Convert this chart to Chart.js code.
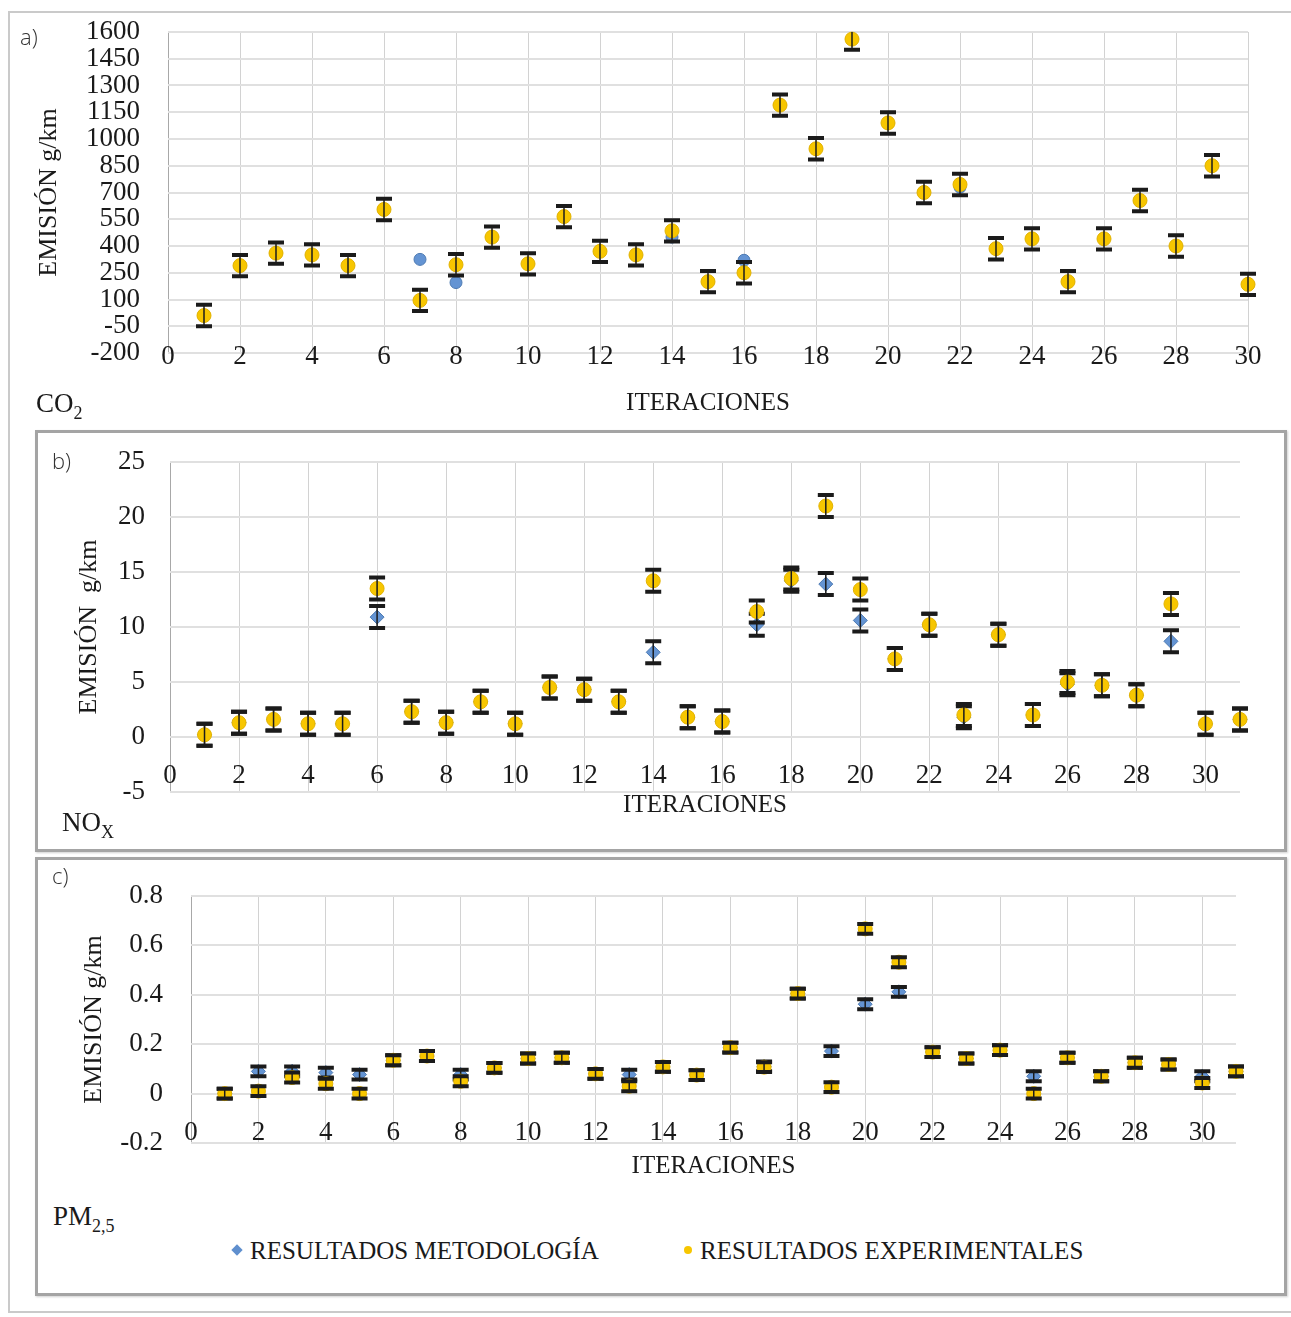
<!DOCTYPE html>
<html lang="es">
<head>
<meta charset="utf-8">
<title>Emisiones CO2, NOx y PM2,5</title>
<script src="https://cdn.jsdelivr.net/npm/chart.js@4.4.1/dist/chart.umd.min.js"></script>
<style>
    body { margin: 0; width: 1291px; height: 1317px; position: relative; overflow: hidden; background: #fff;
           font-family: 'Liberation Serif', serif; color: #1a1a1a; }
    .frame { position: absolute; left: 8px; top: 11px; width: 1300px; height: 1298px; border: 2px solid #cacaca; border-right: none; }
    .box { position: absolute; left: 35px; width: 1246px; border: 3px solid #a4a4a4; box-shadow: 1px 1px 2px #d0d0d0; }
    canvas { position: absolute; }
    .tag { position: absolute; font-family: 'Open Sans', sans-serif; font-weight: 300; font-size: 22px; color: #333; line-height: 1; }
    .gas { position: absolute; font-size: 27px; line-height: 1; }
    .gas sub { font-size: 18px; vertical-align: -7px; }
    .legend-text { position: absolute; font-size: 25px; line-height: 1; top: 1238px; }
    .mk { position: absolute; width: 8px; height: 8px; top: 1246px; }
    .mk.dia { background: #5f8fce; transform: rotate(45deg); }
    .mk.dot { background: #f7c600; border-radius: 50%; }
</style>
</head>
<body>
<div class="frame"></div>
<div class="box" style="top:430px; height:416px;"></div>
<div class="box" style="top:857px; height:433px;"></div>

<canvas id="chart-co2" width="1270" height="420" style="left:10px; top:14px;"></canvas>
<canvas id="chart-nox" width="1240" height="412" style="left:40px; top:435px;"></canvas>
<canvas id="chart-pm" width="1240" height="330" style="left:40px; top:862px;"></canvas>

<div class="tag" style="left:20px; top:25px;">a)</div>
<div class="tag" style="left:52px; top:449px;">b)</div>
<div class="tag" style="left:52px; top:864px;">c)</div>

<div class="gas" style="left:36px; top:390px;">CO<sub>2</sub></div>
<div class="gas" style="left:62px; top:809px;">NO<sub>X</sub></div>
<div class="gas" style="left:53px; top:1203px;">PM<sub>2,5</sub></div>

<span class="mk dia" style="left:233px;"></span>
<div class="legend-text" style="left:250px;">RESULTADOS METODOLOGÍA</div>
<span class="mk dot" style="left:684px;"></span>
<div class="legend-text" style="left:700px;">RESULTADOS EXPERIMENTALES</div>

<script>
// a) CO2
const iterCO2 = [1, 2, 3, 4, 5, 6, 7, 8, 9, 10, 11, 12, 13, 14, 15, 16, 17, 18, 19, 20, 21, 22, 23, 24, 25, 26, 27, 28, 29, 30];
const co2Metodo = [10, 290, 360, 350, 290, 605, 325, 195, 450, 300, 565, 370, 350, 450, 200, 320, 1190, 945, 1560, 1090, 700, 730, 385, 440, 200, 440, 655, 400, 850, 185];
const co2Experimental = [10, 290, 360, 350, 290, 605, 95, 295, 450, 300, 565, 370, 350, 485, 200, 250, 1190, 945, 1560, 1090, 700, 745, 385, 440, 200, 440, 655, 400, 850, 185];
const co2ErrorMetodo = 0;
const co2ErrorExperimental = 60;

// b) NOx
const iterNOx = [1, 2, 3, 4, 5, 6, 7, 8, 9, 10, 11, 12, 13, 14, 15, 16, 17, 18, 19, 20, 21, 22, 23, 24, 25, 26, 27, 28, 29, 30, 31];
const noxMetodo = [0.2, 1.3, 1.6, 1.2, 1.2, 10.9, 2.3, 1.3, 3.2, 1.2, 4.5, 4.3, 3.2, 7.7, 1.8, 1.4, 10.2, 14.2, 13.9, 10.6, 7.1, 10.2, 1.8, 9.3, 2.0, 4.8, 4.7, 3.8, 8.7, 1.2, 1.6];
const noxExperimental = [0.2, 1.3, 1.6, 1.2, 1.2, 13.5, 2.3, 1.3, 3.2, 1.2, 4.5, 4.3, 3.2, 14.2, 1.8, 1.4, 11.4, 14.4, 21.0, 13.4, 7.1, 10.2, 2.0, 9.3, 2.0, 5.0, 4.7, 3.8, 12.1, 1.2, 1.6];
const noxErrorMetodo = 1;
const noxErrorExperimental = 1;

// c) PM2,5
const iterPM = [1, 2, 3, 4, 5, 6, 7, 8, 9, 10, 11, 12, 13, 14, 15, 16, 17, 18, 19, 20, 21, 22, 23, 24, 25, 26, 27, 28, 29, 30, 31];
const pmMetodo = [0.0, 0.09, 0.09, 0.085, 0.077, 0.135, 0.152, 0.077, 0.104, 0.142, 0.145, 0.08, 0.077, 0.108, 0.075, 0.186, 0.11, 0.405, 0.172, 0.362, 0.412, 0.168, 0.142, 0.176, 0.07, 0.145, 0.07, 0.125, 0.118, 0.07, 0.09];
const pmExperimental = [0.0, 0.01, 0.065, 0.04, 0.0, 0.135, 0.152, 0.05, 0.104, 0.142, 0.145, 0.08, 0.03, 0.108, 0.075, 0.186, 0.107, 0.405, 0.026, 0.667, 0.532, 0.168, 0.142, 0.176, 0.0, 0.145, 0.07, 0.125, 0.118, 0.043, 0.09];
const pmErrorMetodo = 0.02;
const pmErrorExperimental = 0.02;

const seriesNames = ['RESULTADOS METODOLOGÍA', 'RESULTADOS EXPERIMENTALES'];

const textColor = '#1a1a1a';
const tickFont = { family: 'Liberation Serif', size: 27 };
const xTitleFont = { family: 'Liberation Serif', size: 25 };
const yTitleFont = { family: 'Liberation Serif', size: 26 };

// error bars drawn over each dataset, from the y scale of the chart
const errorBarPlugin = {
    id: 'errorBars',
    afterDatasetDraw(chart, args) {
        const ds = chart.data.datasets[args.index];
        if (!ds.errorBar) return;
        const yScale = chart.scales.y;
        const area = chart.chartArea;
        const ctx = chart.ctx;
        ctx.save();
        ctx.beginPath();
        ctx.rect(area.left - 20, area.top, area.right - area.left + 40, area.bottom - area.top);
        ctx.clip();
        ctx.strokeStyle = '#1b1b1b';
        args.meta.data.forEach(function(pt, i) {
            const v = ds.data[i].y;
            const top = yScale.getPixelForValue(v + ds.errorBar);
            const bottom = yScale.getPixelForValue(v - ds.errorBar);
            ctx.lineWidth = 1.5;
            ctx.beginPath();
            ctx.moveTo(pt.x, top);
            ctx.lineTo(pt.x, bottom);
            ctx.stroke();
            ctx.lineWidth = 4;
            ctx.beginPath();
            ctx.moveTo(pt.x - 8, top);
            ctx.lineTo(pt.x + 8, top);
            ctx.moveTo(pt.x - 8, bottom);
            ctx.lineTo(pt.x + 8, bottom);
            ctx.stroke();
        });
        ctx.restore();
    }
};

function toPoints(xs, ys) {
    return xs.map(function(x, i) { return { x: x, y: ys[i] }; });
}

function buildPanel(canvasId, p) {
    const canvas = document.getElementById(canvasId)?.getContext('2d');
    if (!canvas) return;
    new Chart(canvas, {
        type: 'scatter',
        data: {
            datasets: [
                {
                    label: seriesNames[0],
                    data: toPoints(p.iter, p.metodo),
                    order: 2,
                    pointStyle: p.blueStyle,
                    pointRadius: p.blueStyle === 'circle' ? 6 : 7,
                    backgroundColor: '#6494d3',
                    borderColor: '#4d7ab2',
                    borderWidth: 1,
                    errorBar: p.errMetodo
                },
                {
                    label: seriesNames[1],
                    data: toPoints(p.iter, p.experimental),
                    order: 1,
                    pointStyle: 'circle',
                    pointRadius: 7,
                    backgroundColor: '#f7c600',
                    borderColor: '#e2b200',
                    borderWidth: 1,
                    errorBar: p.errExperimental
                }
            ]
        },
        options: {
            responsive: false,
            animation: false,
            events: [],
            clip: false,
            layout: { padding: { left: 0, top: p.padTop, right: p.padRight, bottom: 0 } },
            plugins: { legend: { display: false }, tooltip: { enabled: false } },
            scales: {
                x: {
                    type: 'linear',
                    position: 'bottom',
                    min: 0,
                    max: p.xMax,
                    afterFit: function(s) { s.height = p.xHeight; s.paddingLeft = 0; s.paddingRight = 0; },
                    // mirror keeps the labels inside the plot, like the original
                    ticks: { stepSize: 2, includeBounds: false, autoSkip: false, maxRotation: 0, mirror: true,
                             padding: p.xLabelPad, font: tickFont, color: textColor },
                    grid: { drawTicks: false, lineWidth: 1,
                            color: function(c) { return c.tick && c.tick.value === 0 ? '#a8a8a8' : '#d2d2d2'; } },
                    border: { display: false },
                    title: { display: true, text: 'ITERACIONES', font: xTitleFont, color: textColor,
                             padding: { top: 0, bottom: p.xTitlePad } }
                },
                y: {
                    min: p.yMin,
                    max: p.yMax,
                    afterFit: function(s) { s.width = p.yWidth; s.paddingTop = 0; s.paddingBottom = 0; },
                    ticks: { stepSize: p.yStep, autoSkip: false, padding: p.yLabelPad, font: tickFont, color: textColor,
                             callback: p.yFormat },
                    grid: { drawTicks: false, lineWidth: 2, color: '#e0e0e0' },
                    border: { display: false },
                    title: { display: true, text: p.yTitle, font: yTitleFont, color: textColor,
                             padding: { top: p.yTitlePad, bottom: 0 } }
                }
            }
        },
        plugins: [errorBarPlugin]
    });
}

document.addEventListener('DOMContentLoaded', function() {
    buildPanel('chart-co2', {
        iter: iterCO2, metodo: co2Metodo, experimental: co2Experimental,
        errMetodo: co2ErrorMetodo, errExperimental: co2ErrorExperimental, blueStyle: 'circle',
        xMax: 30, yMin: -200, yMax: 1600, yStep: 150,
        yFormat: function(v) { return String(v); },
        yTitle: 'EMISIÓN g/km',
        padTop: 18, padRight: 32, yWidth: 158, xHeight: 81,
        xLabelPad: -20, xTitlePad: 16, yLabelPad: 28, yTitlePad: 24
    });
    buildPanel('chart-nox', {
        iter: iterNOx, metodo: noxMetodo, experimental: noxExperimental,
        errMetodo: noxErrorMetodo, errExperimental: noxErrorExperimental, blueStyle: 'rectRot',
        xMax: 31, yMin: -5, yMax: 25, yStep: 5,
        yFormat: function(v) { return String(v); },
        yTitle: 'EMISIÓN  g/km',
        padTop: 27, padRight: 40, yWidth: 130, xHeight: 55,
        xLabelPad: 0, xTitlePad: 27, yLabelPad: 25, yTitlePad: 34
    });
    buildPanel('chart-pm', {
        iter: iterPM, metodo: pmMetodo, experimental: pmExperimental,
        errMetodo: pmErrorMetodo, errExperimental: pmErrorExperimental, blueStyle: 'rectRot',
        xMax: 31, yMin: -0.2, yMax: 0.8, yStep: 0.2,
        yFormat: function(v) { return Math.abs(v) < 1e-9 ? '0' : v.toFixed(1); },
        yTitle: 'EMISIÓN g/km',
        padTop: 34, padRight: 44, yWidth: 151, xHeight: 49,
        xLabelPad: -6, xTitlePad: 11, yLabelPad: 28, yTitlePad: 39
    });
});
</script>
</body>
</html>
